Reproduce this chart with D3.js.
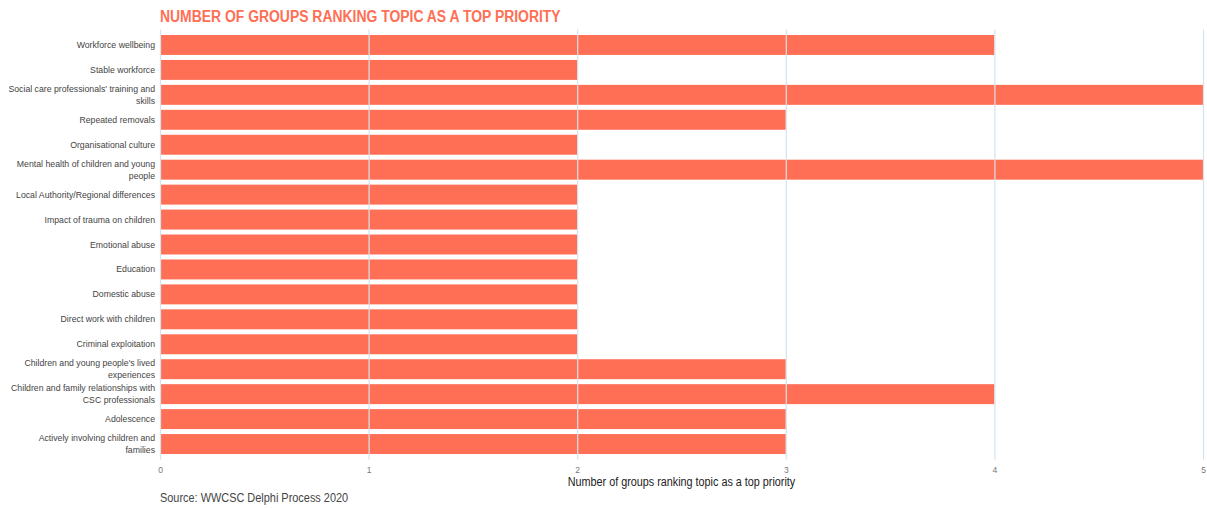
<!DOCTYPE html>
<html>
<head>
<meta charset="utf-8">
<script src="https://cdn.jsdelivr.net/npm/d3@7"></script>
<style>
  html, body { margin: 0; padding: 0; background: #ffffff; }
  svg { display: block; }
</style>
</head>
<body>
<svg id="chart" width="1207" height="508"></svg>
<script>
// Topics, listed top to bottom
const topics = [
  "Workforce wellbeing",
  "Stable workforce",
  "Social care professionals' training and skills",
  "Repeated removals",
  "Organisational culture",
  "Mental health of children and young people",
  "Local Authority/Regional differences",
  "Impact of trauma on children",
  "Emotional abuse",
  "Education",
  "Domestic abuse",
  "Direct work with children",
  "Criminal exploitation",
  "Children and young people's lived experiences",
  "Children and family relationships with CSC professionals",
  "Adolescence",
  "Actively involving children and families"
];

// Number of groups ranking each topic as a top priority
const groupCounts = [4, 2, 5, 3, 2, 5, 2, 2, 2, 2, 2, 2, 2, 3, 4, 3, 3];

const xTicks = [0, 1, 2, 3, 4, 5];

const titleText = "NUMBER OF GROUPS RANKING TOPIC AS A TOP PRIORITY";
const xAxisTitle = "Number of groups ranking topic as a top priority";
const sourceText = "Source: WWCSC Delphi Process 2020";

const barColor = "#ff6f55";
const gridColor = "#d5e3ea";
const textColor = "#444444";
const sans = "'Liberation Sans', Arial, Helvetica, sans-serif";

const svg = d3.select("#chart");
const margin = { left: 160, right: 4, top: 32.5, bottom: 51.5 };
const W = 1207, H = 508;

// Squeeze a text element horizontally to mimic a condensed face
function condense(sel, factor) {
  sel.each(function () {
    const len = this.getComputedTextLength();
    d3.select(this).attr("textLength", len * factor).attr("lengthAdjust", "spacingAndGlyphs");
  });
}

const x = d3.scaleLinear().domain([0, 5]).range([margin.left, W - margin.right]);
const y = d3.scaleBand().domain(topics).range([margin.top, H - margin.bottom])
  .paddingInner(0.2).paddingOuter(0.1);

// Bars
svg.append("g").selectAll("rect")
  .data(topics.map((t, i) => ({ topic: t, value: groupCounts[i] })))
  .join("rect")
  .attr("x", x(0))
  .attr("y", d => y(d.topic))
  .attr("width", d => x(d.value) - x(0))
  .attr("height", y.bandwidth())
  .attr("fill", barColor);

// Vertical gridlines over the bars
const xAxis = d3.axisBottom(x).tickValues(xTicks).tickFormat(d3.format("d"))
  .tickSize(-(H - margin.bottom - margin.top + 6)).tickPadding(7);
const gx = svg.append("g")
  .attr("transform", `translate(0,${H - margin.bottom + 3})`)
  .call(xAxis);
gx.select(".domain").remove();
gx.selectAll(".tick line").attr("stroke", gridColor).attr("stroke-width", 1.2);
gx.selectAll(".tick text")
  .attr("fill", "#777")
  .attr("font-family", sans)
  .attr("font-size", 8.5);

// Category labels, wrapped to fit the left margin
const labelSqueeze = 0.93;
const yAxis = d3.axisLeft(y).tickSize(0).tickPadding(5);
const gy = svg.append("g").attr("transform", `translate(${margin.left},0)`).call(yAxis);
gy.select(".domain").remove();
gy.selectAll(".tick text")
  .attr("fill", textColor)
  .attr("font-family", sans)
  .attr("font-size", 9.4)
  .each(function (d) { wrap(d3.select(this), 148); });

function wrap(text, width) {
  const words = text.text().split(/\s+/);
  text.text(null);
  const lines = [];
  let line = [];
  const probe = text.append("tspan");
  words.forEach(w => {
    line.push(w);
    probe.text(line.join(" "));
    if (probe.node().getComputedTextLength() * labelSqueeze > width && line.length > 1) {
      line.pop();
      lines.push(line.join(" "));
      line = [w];
      probe.text(w);
    }
  });
  lines.push(line.join(" "));
  text.text(null);
  const lh = 12;
  const start = -(lines.length - 1) * lh / 2;
  lines.forEach((l, i) => {
    const t = text.append("tspan").attr("x", -5)
      .attr("y", start + i * lh).attr("dy", "0.32em").text(l);
    const len = t.node().getComputedTextLength();
    t.attr("textLength", len * labelSqueeze).attr("lengthAdjust", "spacingAndGlyphs");
  });
}

// Title
svg.append("text")
  .attr("x", margin.left).attr("y", 22)
  .attr("fill", barColor)
  .attr("font-family", sans)
  .attr("font-weight", "bold")
  .attr("font-size", 16)
  .text(titleText)
  .call(condense, 0.87);

// Axis title
svg.append("text")
  .attr("x", (x(0) + x(5)) / 2).attr("y", 486)
  .attr("text-anchor", "middle")
  .attr("fill", "#222")
  .attr("font-family", sans)
  .attr("font-size", 12)
  .text(xAxisTitle)
  .call(condense, 0.9);

// Source note
svg.append("text")
  .attr("x", margin.left).attr("y", 502)
  .attr("fill", textColor)
  .attr("font-family", sans)
  .attr("font-size", 12)
  .text(sourceText)
  .call(condense, 0.91);
</script>
</body>
</html>
